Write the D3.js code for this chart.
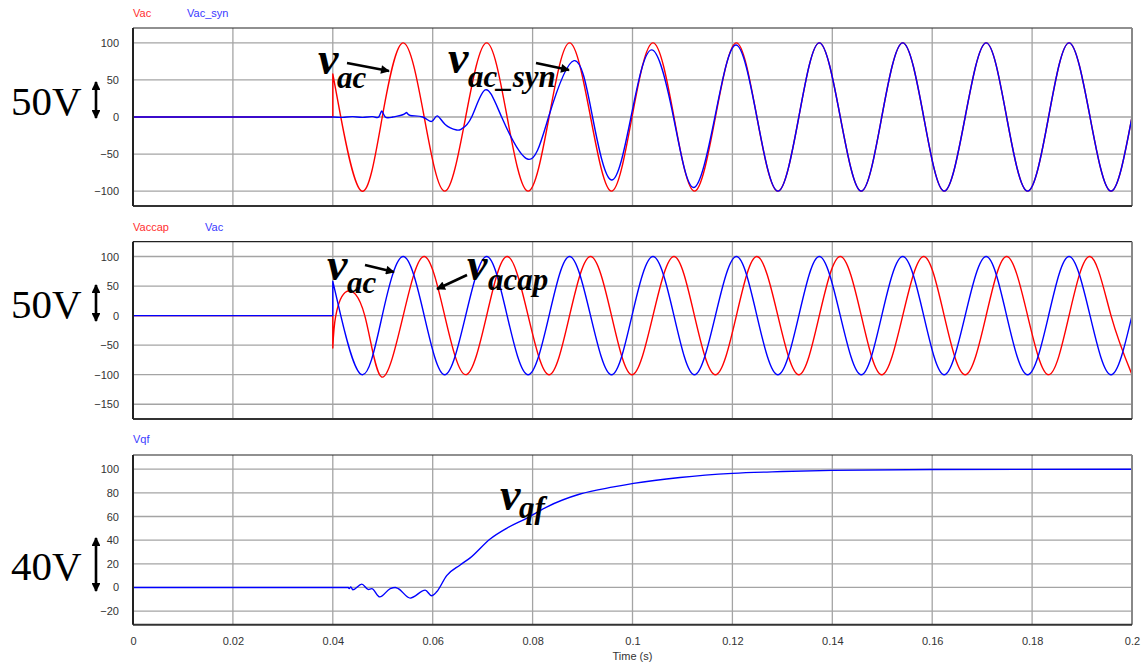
<!DOCTYPE html>
<html>
<head>
<meta charset="utf-8">
<script src="https://cdn.jsdelivr.net/npm/d3@7"></script>
<style>
  html, body { margin: 0; padding: 0; background: #fff; }
  svg { display: block; }
  .tick-label { font-family: "Liberation Sans", Arial, sans-serif; font-size: 11px; fill: #333; }
  .legend { font-family: "Liberation Sans", Arial, sans-serif; font-size: 11px; }
  .note { font-family: "Liberation Serif", "Times New Roman", serif; font-weight: bold; font-style: italic; fill: #000; }
  .scale-label { font-family: "Liberation Serif", "Times New Roman", serif; font-size: 41px; fill: #000; }
</style>
</head>
<body>
<svg id="chart" width="1143" height="667"></svg>
<script>
// ---- time axis ----
const timeTicks = [0, 0.02, 0.04, 0.06, 0.08, 0.1, 0.12, 0.14, 0.16, 0.18, 0.2];
const timeTickLabels = ["0", "0.02", "0.04", "0.06", "0.08", "0.1", "0.12", "0.14", "0.16", "0.18", "0.2"];

// ---- panel 1: Vac and Vac_syn ----
const vacTime = [0.04, 0.0416, 0.0458, 0.0499, 0.0541, 0.0583, 0.0624, 0.0666, 0.0708, 0.0749,
  0.0791, 0.0833, 0.0874, 0.0916, 0.0958, 0.0999, 0.1041, 0.1083, 0.1124, 0.1166,
  0.1208, 0.1249, 0.1291, 0.1333, 0.1374, 0.1416, 0.1458, 0.1499, 0.1541, 0.1583,
  0.1624, 0.1666, 0.1708, 0.1749, 0.1791, 0.1833, 0.1874, 0.1916, 0.1958, 0.2];
const vacValue = [58, 0, -100, 0, 100, 0, -100, 0, 100, 0,
  -100, 0, 100, 0, -100, 0, 100, 0, -100, 0,
  100, 0, -100, 0, 100, 0, -100, 0, 100, 0,
  -100, 0, 100, 0, -100, 0, 100, 0, -100, 0];

const vacSynTime = [0.04, 0.042, 0.044, 0.046, 0.048, 0.0492, 0.0498, 0.0505, 0.052, 0.054,
  0.0548, 0.0555, 0.058, 0.0598, 0.0609, 0.0625, 0.0648, 0.0658, 0.0678, 0.0705,
  0.0738, 0.0791, 0.0832, 0.0883, 0.092, 0.0958, 0.0997, 0.1038, 0.1082, 0.1122,
  0.1165, 0.1207, 0.1249, 0.1291, 0.1333, 0.1374, 0.1416, 0.1458, 0.1499, 0.1541,
  0.1583, 0.1624, 0.1666, 0.1708, 0.1749, 0.1791, 0.1833, 0.1874, 0.1916, 0.1958, 0.2];
const vacSynValue = [0, -0.5, 0.5, -0.5, 0.5, 0, 8, 0, 0, 3,
  6, 2, 0, -6, 1.5, -10, -17.5, -16, 0, 36.5,
  0, -57, 0, 76, 0, -85, 0, 90.5, 0, -95,
  0, 97, 0, -100, 0, 100, 0, -100, 0, 100,
  0, -100, 0, 100, 0, -100, 0, 100, 0, -100, 0];

// ---- panel 2: Vaccap and Vac ----
const vaccapTime = [0.04, 0.0406, 0.0428, 0.0464, 0.0498, 0.0541, 0.0583, 0.0624, 0.0666, 0.0708,
  0.0749, 0.0791, 0.0833, 0.0874, 0.0916, 0.0958, 0.0999, 0.1041, 0.1083, 0.1124,
  0.1166, 0.1208, 0.1249, 0.1291, 0.1333, 0.1374, 0.1416, 0.1458, 0.1499, 0.1541,
  0.1583, 0.1624, 0.1666, 0.1708, 0.1749, 0.1791, 0.1833, 0.1874, 0.1916, 0.1958, 0.2];
const vaccapValue = [-55, 0, 41, 0, -104, 0, 100, 0, -100, 0,
  100, 0, -100, 0, 100, 0, -100, 0, 100, 0,
  -100, 0, 100, 0, -100, 0, 100, 0, -100, 0,
  100, 0, -100, 0, 100, 0, -100, 0, 100, 0, -100];

// ---- panel 3: Vqf ----
const vqfTime = [0.0431, 0.0433, 0.0436, 0.044, 0.0458, 0.0471, 0.0478, 0.0494, 0.0515, 0.0525,
  0.0531, 0.0555, 0.0585, 0.0598, 0.0608, 0.0628, 0.0655, 0.0675, 0.0715, 0.0748,
  0.0788, 0.0828, 0.0895, 0.0962, 0.1002, 0.1095, 0.12, 0.13, 0.14, 0.16, 0.2];
const vqfValue = [0, -1, 0.5, -2, 2.8, -1.7, -1, -8, -1, 0,
  -1, -9, -2.3, -7, -3.7, 10, 19, 25, 41, 50,
  58.5, 68, 79, 85, 88, 93, 96.5, 98, 99, 99.7, 100];

const ticksTop = [-100, -50, 0, 50, 100];
const ticksMid = [-150, -100, -50, 0, 50, 100];
const ticksBot = [-20, 0, 20, 40, 60, 80, 100];

const RED = "#ff0000", BLUE = "#0000ff";
const svg = d3.select("#chart");

const x = d3.scaleLinear().domain([0, 0.2]).range([133, 1132]);

const panels = [
  { top: 28, bottom: 206, domain: [-120, 120], ticks: ticksTop,
    legend: [{ text: "Vac", color: "#ff3030", x: 133 }, { text: "Vac_syn", color: "#3a3aff", x: 187 }], legendY: 17,
    series: [
      { t: vacTime, v: vacValue, color: RED, curve: d3.curveNatural, jump: true },
      { t: vacSynTime, v: vacSynValue, color: BLUE, curve: d3.curveNatural, jump: false }
    ] },
  { top: 241.7, bottom: 419, domain: [-175, 125], ticks: ticksMid,
    legend: [{ text: "Vaccap", color: "#ff3030", x: 133 }, { text: "Vac", color: "#3a3aff", x: 205 }], legendY: 231,
    series: [
      { t: vaccapTime, v: vaccapValue, color: RED, curve: d3.curveNatural, jump: true },
      { t: vacTime, v: vacValue, color: BLUE, curve: d3.curveNatural, jump: true }
    ] },
  { top: 455, bottom: 624.7, domain: [-31.5, 112], ticks: ticksBot,
    legend: [{ text: "Vqf", color: "#3a3aff", x: 133 }], legendY: 443,
    series: [
      { t: vqfTime, v: vqfValue, color: BLUE, curve: d3.curveMonotoneX, jump: false }
    ] }
];

// Zero until the first sample, then (optionally) a step, then the sampled waveform
function seriesPath(s, y) {
  const pts = s.t.map((t, i) => [x(t), y(s.v[i])]);
  const head = `M${x(0)},${y(0)}L${x(s.t[0])},${y(0)}`;
  const body = d3.line().curve(s.curve)(pts).replace(/^M/, "L");
  return head + body;
}

panels.forEach((p, pi) => {
  const y = d3.scaleLinear().domain(p.domain).range([p.bottom, p.top]);
  const g = svg.append("g");

  // grid
  g.selectAll(".hgrid").data(p.ticks).join("line")
    .attr("x1", x(0)).attr("x2", x(0.2))
    .attr("y1", d => y(d)).attr("y2", d => y(d))
    .attr("stroke", "#a4a4a4").attr("stroke-width", 1.3);
  g.selectAll(".vgrid").data(timeTicks.slice(1, -1)).join("line")
    .attr("x1", d => x(d)).attr("x2", d => x(d))
    .attr("y1", p.top).attr("y2", p.bottom)
    .attr("stroke", "#a4a4a4").attr("stroke-width", 1.3);

  // y axis labels
  const yAxis = d3.axisLeft(y).tickValues(p.ticks).tickSize(0).tickPadding(14);
  const ya = g.append("g").attr("transform", `translate(${x(0)},0)`).call(yAxis);
  ya.select(".domain").remove();
  ya.selectAll("text").attr("class", "tick-label").attr("font-size", null).attr("font-family", null);

  // waveforms
  const clipId = "clip" + pi;
  svg.append("clipPath").attr("id", clipId).append("rect")
    .attr("x", x(0)).attr("y", p.top).attr("width", x(0.2) - x(0)).attr("height", p.bottom - p.top);
  p.series.forEach(s => {
    g.append("path").attr("d", seriesPath(s, y))
      .attr("fill", "none").attr("stroke", s.color).attr("stroke-width", 1.4)
      .attr("stroke-linejoin", "round").attr("clip-path", `url(#${clipId})`);
  });

  // frame
  g.append("line").attr("x1", x(0)).attr("x2", x(0.2)).attr("y1", p.top).attr("y2", p.top)
    .attr("stroke", "#222").attr("stroke-width", 1.2);
  g.append("line").attr("x1", x(0.2)).attr("x2", x(0.2)).attr("y1", p.top).attr("y2", p.bottom)
    .attr("stroke", "#888").attr("stroke-width", 2);
  g.append("line").attr("x1", x(0)).attr("x2", x(0.2)).attr("y1", p.bottom).attr("y2", p.bottom)
    .attr("stroke", "#333").attr("stroke-width", 2);
  g.append("line").attr("x1", x(0)).attr("x2", x(0)).attr("y1", p.top).attr("y2", p.bottom)
    .attr("stroke", "#222").attr("stroke-width", 2);

  // legend
  p.legend.forEach(l => {
    g.append("text").attr("class", "legend").attr("x", l.x).attr("y", p.legendY)
      .attr("fill", l.color).text(l.text);
  });

  // time axis on the last panel
  if (pi === panels.length - 1) {
    const xAxis = d3.axisBottom(x).tickValues(timeTicks).tickSize(0).tickPadding(13)
      .tickFormat((d, i) => timeTickLabels[i]);
    const xa = g.append("g").attr("transform", `translate(0,${p.bottom})`).call(xAxis);
    xa.select(".domain").remove();
    xa.selectAll("text").attr("class", "tick-label").attr("font-size", null).attr("font-family", null);
    g.append("text").attr("class", "tick-label").attr("x", (x(0) + x(0.2)) / 2).attr("y", 660)
      .attr("text-anchor", "middle").text("Time (s)");
  }
});

// arrow heads
const defs = svg.append("defs");
defs.append("marker").attr("id", "head").attr("viewBox", "0 0 10 10")
  .attr("refX", 9).attr("refY", 5).attr("markerWidth", 4.2).attr("markerHeight", 3.4)
  .attr("orient", "auto-start-reverse").attr("markerUnits", "strokeWidth")
  .append("path").attr("d", "M0,0L10,5L0,10Z").attr("fill", "#000");

// waveform annotations
const notes = [
  { v: [318, 74], sub: "ac", s: [337, 88], arrow: [347, 63, 389, 71] },
  { v: [448, 73], sub: "ac_syn", s: [468, 87], arrow: [536, 63, 569, 70] },
  { v: [327, 280], sub: "ac", s: [347, 293], arrow: [365, 265, 394, 272] },
  { v: [467, 280], sub: "acap", s: [488, 290], arrow: [467, 275, 437, 289] },
  { v: [500, 510], sub: "qf", s: [519, 518], arrow: null }
];
notes.forEach(n => {
  svg.append("text").attr("class", "note").attr("x", n.v[0]).attr("y", n.v[1])
    .attr("font-size", 46).text("v");
  svg.append("text").attr("class", "note").attr("x", n.s[0]).attr("y", n.s[1])
    .attr("font-size", 31).text(n.sub);
  if (n.arrow) {
    svg.append("line").attr("x1", n.arrow[0]).attr("y1", n.arrow[1])
      .attr("x2", n.arrow[2]).attr("y2", n.arrow[3])
      .attr("stroke", "#000").attr("stroke-width", 2.6).attr("marker-end", "url(#head)");
  }
});

// scale markers on the left
const scaleMarks = [
  { text: "50V", base: 115, y1: 82, y2: 118 },
  { text: "50V", base: 318, y1: 285, y2: 321 },
  { text: "40V", base: 580, y1: 538, y2: 591 }
];
scaleMarks.forEach(m => {
  svg.append("text").attr("class", "scale-label").attr("x", 11).attr("y", m.base).text(m.text);
  svg.append("line").attr("x1", 96).attr("x2", 96).attr("y1", m.y1).attr("y2", m.y2)
    .attr("stroke", "#000").attr("stroke-width", 2.6)
    .attr("marker-start", "url(#head)").attr("marker-end", "url(#head)");
});
</script>
</body>
</html>
